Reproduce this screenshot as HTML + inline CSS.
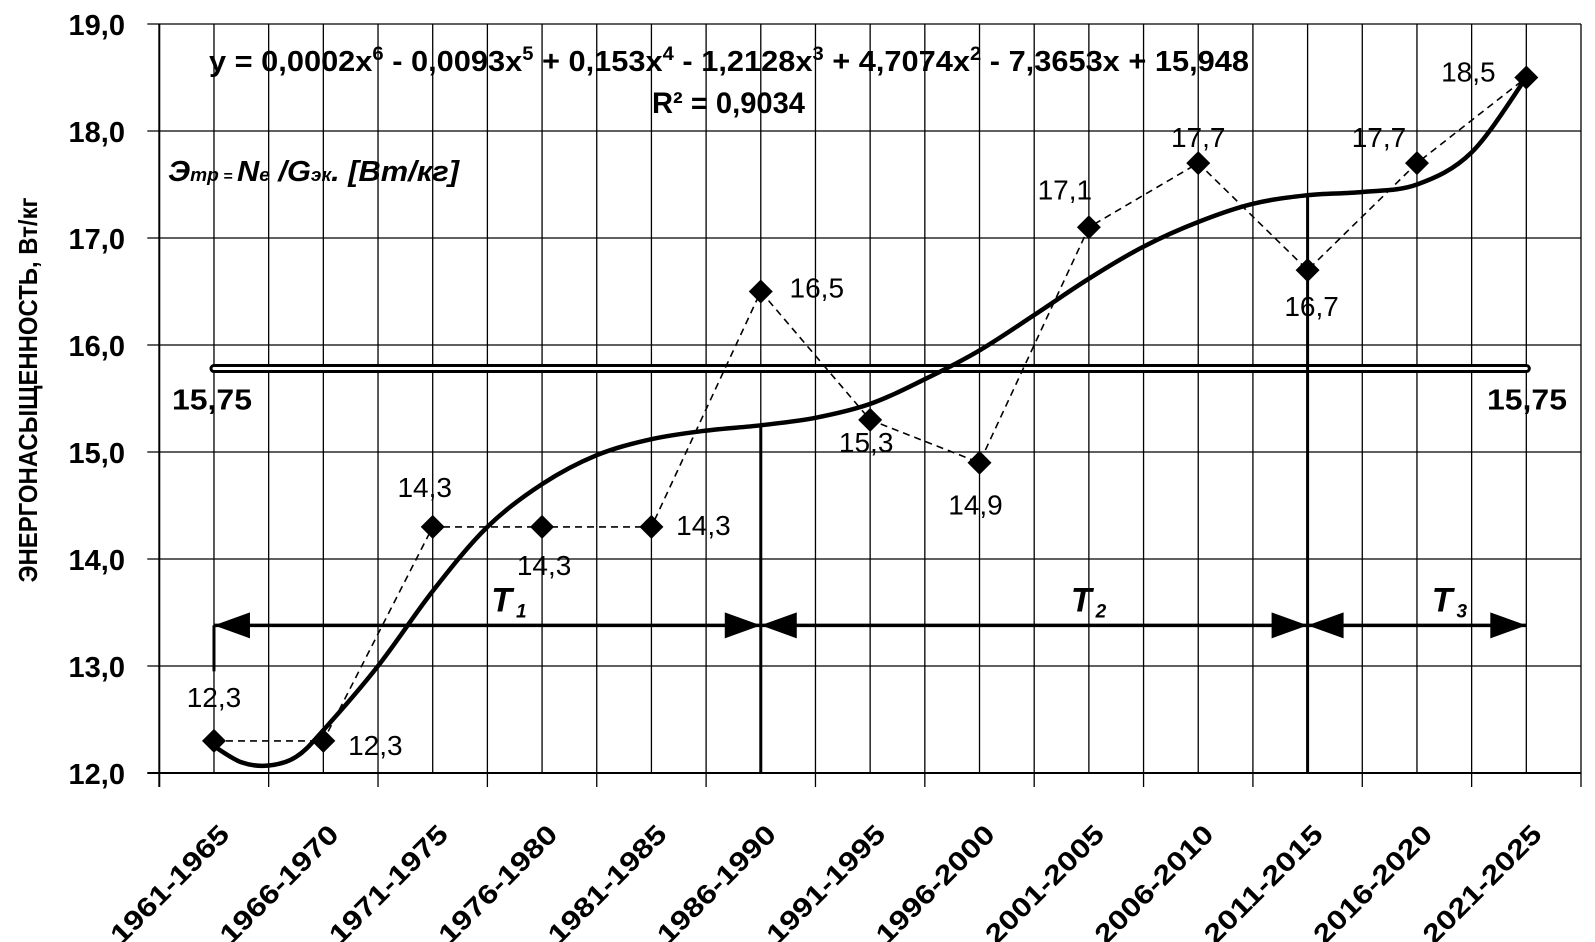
<!DOCTYPE html>
<html><head><meta charset="utf-8"><style>
html,body{margin:0;padding:0;background:#fff;overflow:hidden;}
svg{display:block;font-family:"Liberation Sans",sans-serif;}
</style></head><body>
<svg id="chart" width="1595" height="942" viewBox="0 0 1595 942" xmlns="http://www.w3.org/2000/svg">
<g id="grid"></g>
<g id="marks"></g>
<g id="labels"></g>
<text x="0" y="0" transform="translate(37,390) rotate(-90)" text-anchor="middle" font-size="26" font-weight="bold" textLength="385" lengthAdjust="spacingAndGlyphs">ЭНЕРГОНАСЫЩЕННОСТЬ, Вт/кг</text>
<text x="209" y="71" font-size="29" font-weight="bold" textLength="1040" lengthAdjust="spacingAndGlyphs">y = 0,0002x<tspan font-size="19" dy="-11">6</tspan><tspan dy="11"> - 0,0093x</tspan><tspan font-size="19" dy="-11">5</tspan><tspan dy="11"> + 0,153x</tspan><tspan font-size="19" dy="-11">4</tspan><tspan dy="11"> - 1,2128x</tspan><tspan font-size="19" dy="-11">3</tspan><tspan dy="11"> + 4,7074x</tspan><tspan font-size="19" dy="-11">2</tspan><tspan dy="11"> - 7,3653x + 15,948</tspan></text>
<text x="652" y="113" font-size="30" font-weight="bold" textLength="153" lengthAdjust="spacingAndGlyphs">R² = 0,9034</text>
<text x="168" y="181" font-size="29" font-weight="bold" font-style="italic" textLength="291" lengthAdjust="spacingAndGlyphs">Э<tspan font-size="18">тр</tspan><tspan font-size="15"> = </tspan>N<tspan font-size="18">e</tspan> /G<tspan font-size="18">эк</tspan>.  [Вт/кг]</text>
</svg>
<script>
const categories=["1961-1965","1966-1970","1971-1975","1976-1980","1981-1985","1986-1990","1991-1995","1996-2000","2001-2005","2006-2010","2011-2015","2016-2020","2021-2025"];
const values=[12.3,12.3,14.3,14.3,14.3,16.5,15.3,14.9,17.1,17.7,16.7,17.7,18.5];
const valueLabels=["12,3","12,3","14,3","14,3","14,3","16,5","15,3","14,9","17,1","17,7","16,7","17,7","18,5"];
const yTicks=[12,13,14,15,16,17,18,19];
const yTickLabels=["12,0","13,0","14,0","15,0","16,0","17,0","18,0","19,0"];
const trendX=[1,1.25,1.5,1.75,2,2.5,3,3.5,4,4.5,5,5.5,6,6.5,7,7.5,8,8.5,9,9.5,10,10.5,11,11.5,12,12.5,13];
const trendY=[12.25,12.1,12.07,12.15,12.4,13.0,13.7,14.3,14.7,14.97,15.12,15.2,15.25,15.32,15.45,15.68,15.95,16.28,16.62,16.92,17.15,17.32,17.4,17.43,17.5,17.8,18.5];
const meanValue=15.78;
const meanLabel="15,75";
const arrowLevel=13.38;

const X0=159.3,X1=1581,Y0=773,Y1=24,YMIN=12,YMAX=19;
const step=(X1-X0)/categories.length;
const xs=i=>X0+step*(i+0.5);
const xc=t=>X0+step*(t-0.5);
const ys=v=>Y0-(v-YMIN)/(YMAX-YMIN)*(Y0-Y1);
const NS="http://www.w3.org/2000/svg";
function mk(tag,attrs,parent){const e=document.createElementNS(NS,tag);for(const k in attrs)e.setAttribute(k,attrs[k]);parent.appendChild(e);return e;}
const grid=document.getElementById('grid'),marks=document.getElementById('marks'),labels=document.getElementById('labels');

for(let k=0;k<=categories.length*2;k++){
  const x=X0+k*step/2;
  const l=mk('line',{x1:x,x2:x,y1:Y1,y2:Y0+(k%2==0?14:0),stroke:'#000','stroke-width':k==0?2:1.3},grid);
  
  
}
yTicks.forEach((v,i)=>{
  const y=ys(v);
  const l=mk('line',{x1:X0-12,x2:X1,y1:y,y2:y,stroke:'#000','stroke-width':i==0?2:1.3},grid);
  
  
  const t=mk('text',{x:125,y:y+11,'text-anchor':'end','font-size':29,'font-weight':'bold'},labels);
  t.textContent=yTickLabels[i];
  
  
});
categories.forEach((c,i)=>{
  const x=xs(i)+17,y=836;
  const t=mk('text',{x:x,y:y,'text-anchor':'end','font-size':27,'font-weight':'bold',textLength:155,lengthAdjust:'spacingAndGlyphs',transform:`rotate(-45 ${x} ${y})`},labels);
  t.textContent=c;
  
  
});

const my=ys(meanValue);
const m1=mk('line',{x1:xs(0),x2:xs(12),y1:my,y2:my,stroke:'#000','stroke-width':9,'stroke-linecap':'round'},marks);


const m2=mk('line',{x1:xs(0),x2:xs(12),y1:my,y2:my,stroke:'#fff','stroke-width':3,'stroke-linecap':'round'},marks);


[[172,'start'],[1567,'end']].forEach(([x,a])=>{
  const t=mk('text',{x:x,y:my+41,'text-anchor':a,'font-size':29,'font-weight':'bold',textLength:80,lengthAdjust:'spacingAndGlyphs'},labels);
  t.textContent=meanLabel;
  
  
});

const P=trendX.map((t,i)=>[xc(t),ys(trendY[i])]);
let d='M'+P[0][0]+','+P[0][1];
for(let i=0;i<P.length-1;i++){
  const p0=P[Math.max(0,i-1)],p1=P[i],p2=P[i+1],p3=P[Math.min(P.length-1,i+2)];
  const c1=[p1[0]+(p2[0]-p0[0])/6,p1[1]+(p2[1]-p0[1])/6];
  const c2=[p2[0]-(p3[0]-p1[0])/6,p2[1]-(p3[1]-p1[1])/6];
  d+=`C${c1[0].toFixed(1)},${c1[1].toFixed(1)} ${c2[0].toFixed(1)},${c2[1].toFixed(1)} ${p2[0].toFixed(1)},${p2[1].toFixed(1)}`;
}
const cur=mk('path',{d:d,fill:'none',stroke:'#000','stroke-width':4.5},marks);


const trendAt=t=>trendY[trendX.indexOf(t)];

const ay=ys(arrowLevel);
const sep=(x,yTop,yBot,name)=>{const l=mk('line',{x1:x,x2:x,y1:yTop,y2:yBot,stroke:'#000','stroke-width':3},marks);};
sep(xs(0),ay,ys(12.95),'t1-start-line');
sep(xs(5),ys(trendAt(6)),Y0,'t1-t2-separator');
sep(xs(10),ys(trendAt(11)),Y0,'t2-t3-separator');
const al=mk('line',{x1:xs(0),x2:xs(12),y1:ay,y2:ay,stroke:'#000','stroke-width':3.5},marks);


const tri=(x,dir,name)=>{const p=mk('polygon',{points:`${x},${ay} ${x-dir*36},${ay-13} ${x-dir*36},${ay+13}`,fill:'#000'},marks);};
tri(xs(0),-1,'t1-arrow-left');tri(xs(5),1,'t1-arrow-right');tri(xs(5),-1,'t2-arrow-left');
tri(xs(10),1,'t2-arrow-right');tri(xs(10),-1,'t3-arrow-left');tri(xs(12),1,'t3-arrow-right');
[[xs(2.7),'1','t1-label'],[xs(8.0),'2','t2-label'],[xs(11.3),'3','t3-label']].forEach(([x,s,n])=>{
  const t=mk('text',{x:x-18,y:ay-14,'font-size':34,'font-weight':'bold','font-style':'italic'},labels);
  t.innerHTML='T<tspan font-size="19" dx="4" dy="6">'+s+'</tspan>';
  
  
});

const pd=values.map((v,i)=>(i?'L':'M')+xs(i)+','+ys(v)).join('');
const dl=mk('path',{d:pd,fill:'none',stroke:'#000','stroke-width':1.6,'stroke-dasharray':'7,5'},marks);


const offs=[[0,-44],[52,4],[-8,-40],[2,38],[52,-2],[56,-4],[-4,22],[-4,42],[-24,-38],[0,-26],[4,36],[-38,-26],[-58,-6]];
values.forEach((v,i)=>{
  const x=xs(i),y=ys(v);
  const p=mk('polygon',{points:`${x},${y-12} ${x+12},${y} ${x},${y+12} ${x-12},${y}`,fill:'#000'},marks);
  
  
  const t=mk('text',{x:x+offs[i][0],y:y+offs[i][1]+10,'text-anchor':'middle','font-size':28},labels);
  t.textContent=valueLabels[i];
  
  
});
</script>
</body></html>
